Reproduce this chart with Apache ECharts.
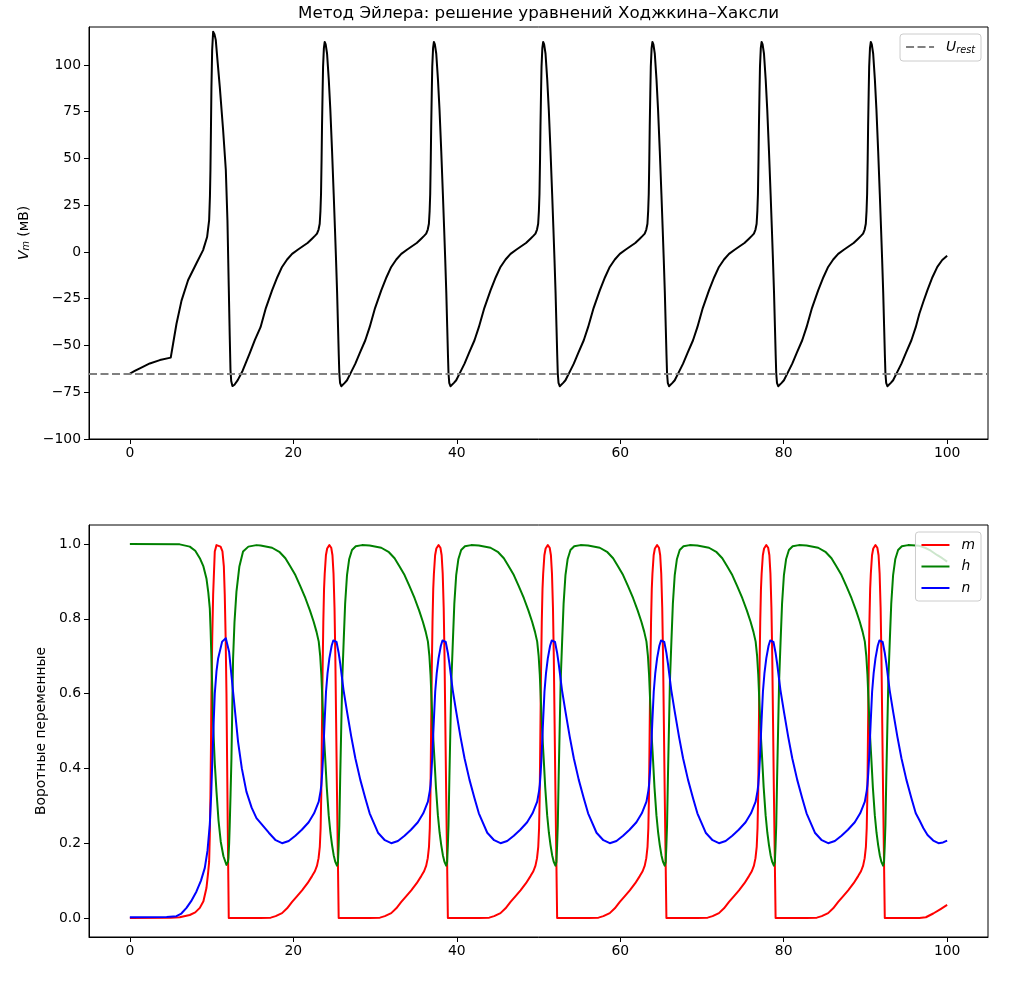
<!DOCTYPE html>
<html>
<head>
<meta charset="utf-8">
<script src="https://cdn.jsdelivr.net/npm/echarts@6/dist/echarts.min.js"></script>
<style>
html, body { margin: 0; padding: 0; background: #fff; }
#chart { width: 1015px; height: 982px; }
</style>
</head>
<body>
<div id="chart"></div>
<script>
// values: t (ms) and V (mV) / gate value
var uRest = -65;

// later spikes: time of each V peak
var spikePeaks = [23.84, 37.2, 50.57, 63.94, 77.3, 90.66];

// start of the run, first spike and its recovery (t, value)
var vHead = [[0,-65],[0.6,-63.6],[1.22,-62.2],[2.44,-59.6],[3.67,-57.8],[5.0,-56.5],[5.3,-48.8],[5.7,-38.5],
  [6.32,-26],[7.13,-15],[8.15,-6],[8.96,1],[9.45,8],[9.7,17],[9.8,30],[9.86,44],[9.92,65],[9.98,88],[10.07,108],
  [10.19,117.8],[10.35,116.5],[10.51,113.4],[10.75,101],[11.0,88.4],[11.41,65.2],[11.74,44],[11.94,17],[12.1,-18.5],
  [12.22,-45],[12.31,-63],[12.4,-69],[12.55,-71.7],[12.8,-71],[13.2,-68.5],[13.8,-63.5],[14.66,-54.2],[15.3,-47]];
var mHead = [[0,0],[5,0.001],[6.1,0.002],[7.33,0.008],[8.0,0.015],[8.56,0.027],[9.0,0.045],[9.37,0.08],[9.57,0.12],
  [9.7,0.15],[9.78,0.22],[9.86,0.33],[9.93,0.47],[9.98,0.6],[10.08,0.75],[10.19,0.865],[10.39,0.98],[10.6,0.997],
  [10.8,1.0],[11.1,0.993],[11.33,0.98],[11.5,0.94],[11.61,0.865],[11.72,0.75],[11.82,0.6],[11.9,0.42],[11.98,0.24],
  [12.05,0.1],[12.1,0],[15.5,0]];
var hHead = [[0,1.0],[6.1,0.999],[7.33,0.993],[8.0,0.982],[8.56,0.962],[9.0,0.94],[9.37,0.908],[9.6,0.87],[9.78,0.828],
  [9.88,0.77],[9.98,0.694],[10.1,0.6],[10.19,0.516],[10.4,0.41],[10.6,0.338],[10.85,0.26],[11.12,0.204],[11.45,0.165],
  [11.82,0.142],[12.0,0.15],[12.06,0.16],[12.15,0.2],[12.22,0.249],[12.32,0.33],[12.43,0.427],[12.53,0.56],
  [12.63,0.694],[12.8,0.79],[13.04,0.872],[13.4,0.94],[13.85,0.98],[14.5,0.993],[15.49,0.997]];
var nHead = [[0,0.002],[4.5,0.003],[5.7,0.005],[6.3,0.012],[6.93,0.027],[7.5,0.045],[8.15,0.071],[8.7,0.1],[9.17,0.134],
  [9.5,0.18],[9.78,0.25],[9.95,0.33],[10.1,0.427],[10.25,0.52],[10.39,0.6],[10.6,0.66],[10.8,0.694],[11.29,0.739],
  [11.74,0.748],[12.14,0.712],[12.63,0.605],[13.24,0.471],[13.7,0.4],[14.26,0.338],[14.9,0.295],[15.49,0.267]];

// one repeating cycle, offset (ms) from the V peak
var vCycle = [[-7.85,-40.2],[-7.2,-30],[-6.44,-20.5],[-5.8,-13.5],[-5.22,-8],[-4.6,-4],[-3.99,-1],[-3.3,1.2],
  [-2.77,2.8],[-2.1,4.8],[-1.55,7.1],[-1.2,8.6],[-0.94,9.8],[-0.75,12],[-0.61,15.1],[-0.52,22],[-0.45,31],
  [-0.38,50],[-0.33,67],[-0.26,85],[-0.2,99],[-0.1,109],[0,112.3],[0.12,111],[0.29,106],[0.5,92],[0.69,76],
  [0.9,54],[1.1,31],[1.25,13],[1.39,-4.5],[1.52,-22],[1.63,-40],[1.72,-55],[1.79,-65],[1.88,-70],[2.03,-71.8],
  [2.2,-71.2],[2.45,-70],[2.73,-68.6],[3.2,-64.5],[3.75,-59.7],[4.3,-54],[4.97,-47.2],[5.5,-40.2]];
var mCycle = [[-7.85,0],[-6.6,0.001],[-6.0,0.005],[-5.22,0.013],[-4.6,0.026],[-3.99,0.043],[-3.4,0.058],
  [-2.77,0.074],[-2.1,0.093],[-1.55,0.112],[-1.2,0.125],[-0.94,0.14],[-0.75,0.16],[-0.6,0.19],[-0.5,0.24],
  [-0.42,0.33],[-0.34,0.5],[-0.26,0.66],[-0.17,0.79],[-0.08,0.88],[0,0.92],[0.15,0.97],[0.3,0.988],[0.57,0.997],
  [0.8,0.99],[0.95,0.97],[1.08,0.92],[1.2,0.83],[1.3,0.7],[1.4,0.52],[1.5,0.34],[1.6,0.18],[1.66,0.08],[1.71,0],[5.5,0]];
var hCycle = [[-7.85,0.996],[-6.44,0.99],[-5.5,0.978],[-4.81,0.962],[-4.2,0.94],[-3.59,0.917],[-3.0,0.888],
  [-2.36,0.855],[-1.8,0.822],[-1.35,0.792],[-1.0,0.765],[-0.73,0.739],[-0.55,0.7],[-0.41,0.65],[-0.24,0.56],
  [-0.1,0.49],[0.08,0.42],[0.25,0.35],[0.49,0.275],[0.7,0.228],[0.9,0.195],[1.1,0.168],[1.3,0.15],[1.5,0.14],
  [1.62,0.15],[1.7,0.19],[1.79,0.249],[1.9,0.38],[2.03,0.516],[2.15,0.64],[2.32,0.739],[2.5,0.84],[2.73,0.917],
  [3.0,0.96],[3.34,0.984],[3.8,0.994],[4.56,0.997],[5.5,0.996]];
var nCycle = [[-6.84,0.228],[-6.0,0.208],[-5.22,0.2],[-4.4,0.206],[-3.59,0.22],
  [-2.8,0.236],[-1.96,0.256],[-1.3,0.28],[-0.73,0.311],[-0.5,0.34],[-0.41,0.356],[-0.3,0.39],[-0.2,0.43],
  [-0.12,0.471],[0,0.53],[0.16,0.605],[0.35,0.655],[0.57,0.694],[0.85,0.728],[1.05,0.742],[1.25,0.747],
  [1.45,0.738],[1.7,0.71],[1.9,0.68],[2.3,0.61],[2.73,0.552],[3.25,0.485],[3.75,0.427],[4.35,0.37],[4.97,0.32],[5.5,0.28]];

// end of the run after the last spike
var vTail = [[96.6,-33],[97.1,-26.5],[97.58,-20.5],[98.2,-13.5],[98.8,-8],[99.4,-4.3],[100,-2]];
var mTail = [[96.6,0],[97.4,0.002],[98.3,0.012],[99.2,0.024],[100,0.035]];
var hTail = [[96.6,0.995],[97.3,0.99],[98,0.982],[98.8,0.97],[99.4,0.962],[100,0.953]];
var nTail = [[96.6,0.262],[97.1,0.24],[97.6,0.222],[98.3,0.207],[98.94,0.2],[99.5,0.202],[100,0.207]];

var xTicks = [0, 20, 40, 60, 80, 100];
var vTicks = [-100, -75, -50, -25, 0, 25, 50, 75, 100];
var gateTicks = [0, 0.2, 0.4, 0.6, 0.8, 1.0];

function build(head, cycle, tail) {
    var pts = head.slice();
    spikePeaks.forEach(function (p) {
        cycle.forEach(function (d) { pts.push([+(p + d[0]).toFixed(3), d[1]]); });
    });
    return pts.concat(tail);
}

var FONT = 'DejaVu Sans';
var FS = 13.9;
var LW = 2;
var chart = echarts.init(document.getElementById('chart'));

function xAxis(idx) {
    return {
        type: 'value', gridIndex: idx, min: -5, max: 105,
        axisLine: { show: true, onZero: false, lineStyle: { color: '#000', width: 1 } },
        axisTick: { show: true, length: 5, lineStyle: { color: '#000', width: 1 }, customValues: xTicks },
        axisLabel: { color: '#000', fontFamily: FONT, fontSize: FS, margin: 7, customValues: xTicks },
        splitLine: { show: false }
    };
}

var legendBox = {
    orient: 'vertical', right: 34, itemWidth: 28, itemHeight: 14, itemGap: 7.5,
    padding: [6, 6, 6, 5], backgroundColor: 'rgba(255,255,255,0.8)',
    borderColor: '#cccccc', borderWidth: 1, borderRadius: 3,
    itemStyle: { opacity: 0 },
    textStyle: {
        fontFamily: FONT, fontSize: FS, color: '#000', padding: [0, 0, 0, 7],
        rich: {
            i: { fontFamily: FONT, fontSize: FS, fontStyle: 'italic', color: '#000' },
            s: { fontFamily: FONT, fontSize: 9.7, fontStyle: 'italic', color: '#000', padding: [6, 0, 0, 0] }
        }
    }
};

function lineSeries(name, axis, data, color) {
    return {
        name: name, type: 'line', xAxisIndex: axis, yAxisIndex: axis,
        data: data, symbol: 'none', showSymbol: false,
        lineStyle: { color: color, width: LW, join: 'round' }, itemStyle: { color: color }
    };
}

var option = {
    animation: false,
    backgroundColor: '#fff',
    title: {
        text: 'Метод Эйлера: решение уравнений Ходжкина–Хаксли',
        left: 538.5, top: 5, padding: 0, textAlign: 'center',
        textStyle: { fontFamily: FONT, fontSize: 16.7, fontWeight: 'normal', color: '#000' }
    },
    legend: [
        Object.assign({}, legendBox, {
            top: 34, data: ['U_rest'],
            formatter: function () { return '{i|U}{s|rest}'; }
        }),
        Object.assign({}, legendBox, {
            top: 532, data: ['m', 'h', 'n'],
            formatter: function (name) { return '{i|' + name + '}'; }
        })
    ],
    grid: [
        { left: 89, top: 27, width: 899, height: 412, show: true, borderColor: '#000', borderWidth: 1, backgroundColor: 'transparent' },
        { left: 89, top: 525, width: 899, height: 412, show: true, borderColor: '#000', borderWidth: 1, backgroundColor: 'transparent' }
    ],
    xAxis: [xAxis(0), xAxis(1)],
    yAxis: [
        {
            type: 'value', gridIndex: 0, min: -100, max: 120.3,
            name: '{i|V}{s|m} (мВ)', nameLocation: 'middle', nameRotate: 90, nameGap: 57,
            nameTextStyle: {
                fontFamily: FONT, fontSize: FS, color: '#000',
                rich: {
                    i: { fontFamily: FONT, fontSize: FS, fontStyle: 'italic', color: '#000' },
                    s: { fontFamily: FONT, fontSize: 9.7, fontStyle: 'italic', color: '#000', padding: [6, 0, 0, 0] }
                }
            },
            axisLine: { show: true, onZero: false, lineStyle: { color: '#000', width: 1 } },
            axisTick: { show: true, length: 5, lineStyle: { color: '#000', width: 1 }, customValues: vTicks },
            axisLabel: {
                color: '#000', fontFamily: FONT, fontSize: FS, margin: 8, customValues: vTicks,
                formatter: function (v) { return String(v).replace('-', '\u2212'); }
            },
            splitLine: { show: false }
        },
        {
            type: 'value', gridIndex: 1, min: -0.0508, max: 1.0508,
            name: 'Воротные переменные', nameLocation: 'middle', nameRotate: 90, nameGap: 39,
            nameTextStyle: { fontFamily: FONT, fontSize: FS, color: '#000' },
            axisLine: { show: true, onZero: false, lineStyle: { color: '#000', width: 1 } },
            axisTick: { show: true, length: 5, lineStyle: { color: '#000', width: 1 }, customValues: gateTicks },
            axisLabel: {
                color: '#000', fontFamily: FONT, fontSize: FS, margin: 8, customValues: gateTicks,
                formatter: function (v) { return v.toFixed(1); }
            },
            splitLine: { show: false }
        }
    ],
    series: [
        lineSeries('V', 0, build(vHead, vCycle, vTail), '#000'),
        {
            name: 'U_rest', type: 'line', xAxisIndex: 0, yAxisIndex: 0, data: [], symbol: 'none',
            lineStyle: { color: '#808080', width: LW, type: [8, 3.5] }, itemStyle: { color: '#808080' },
            markLine: {
                silent: true, symbol: 'none', label: { show: false },
                lineStyle: { color: '#808080', width: LW, type: [8, 3.5], opacity: 1 },
                data: [{ yAxis: uRest }]
            }
        },
        lineSeries('m', 1, build(mHead, mCycle, mTail), '#ff0000'),
        lineSeries('h', 1, build(hHead, hCycle, hTail), '#008000'),
        lineSeries('n', 1, build(nHead, nCycle, nTail), '#0000ff')
    ]
};

chart.setOption(option);
</script>
</body>
</html>
